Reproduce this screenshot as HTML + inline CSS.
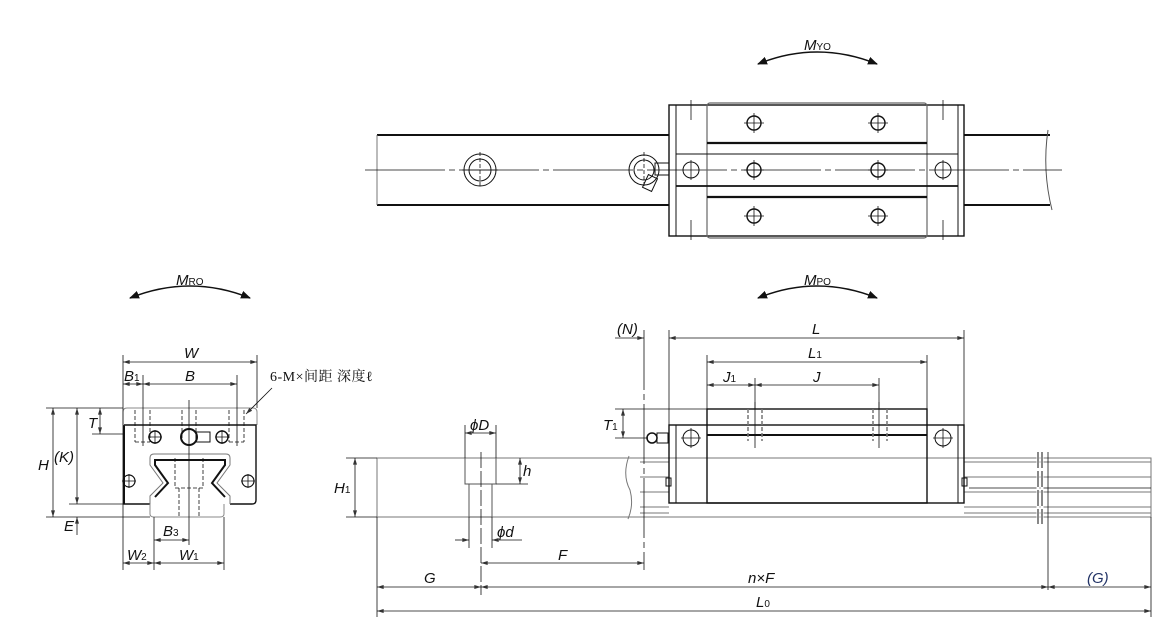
<!DOCTYPE html>
<html><head><meta charset="utf-8"><style>
html,body{margin:0;padding:0;background:#fff;width:1174px;height:631px;overflow:hidden}
svg{display:block}
text{font-family:"Liberation Sans",sans-serif;font-style:italic;font-size:15px;fill:#111}
.s{font-size:10px;font-style:normal}
</style></head><body>
<svg width="1174" height="631" viewBox="0 0 1174 631" xmlns="http://www.w3.org/2000/svg">
<defs>
<marker id="a" viewBox="0 0 10 6" refX="10" refY="3" markerWidth="8" markerHeight="4" orient="auto-start-reverse" markerUnits="userSpaceOnUse"><path d="M0,0L10,3L0,6z" fill="#333"/></marker>
<marker id="b" viewBox="0 0 10 8" refX="9" refY="4" markerWidth="10" markerHeight="8" orient="auto-start-reverse" markerUnits="userSpaceOnUse"><path d="M0,0L10,4L0,8z" fill="#111"/></marker>
</defs>
<g fill="none" stroke="#111" stroke-width="1">

<path d="M758,64 Q817,40 877,64" stroke-width="1.6" marker-start="url(#b)" marker-end="url(#b)"/>
<path d="M130,298 Q190,274 250,298" stroke-width="1.6" marker-start="url(#b)" marker-end="url(#b)"/>
<path d="M758,298 Q817,274 877,298" stroke-width="1.6" marker-start="url(#b)" marker-end="url(#b)"/>

<!-- TOP VIEW -->
<line x1="377" y1="135" x2="669" y2="135" stroke-width="2"/>
<line x1="377" y1="205" x2="669" y2="205" stroke-width="2"/>
<line x1="377" y1="135" x2="377" y2="205" stroke="#777"/>
<line x1="964" y1="135" x2="1050" y2="135" stroke-width="2"/>
<line x1="964" y1="205" x2="1050" y2="205" stroke-width="2"/>
<path d="M1048,130 Q1042,170 1052,210" stroke="#555"/>
<line x1="365" y1="170" x2="1062" y2="170" stroke-width="0.8" stroke-dasharray="80,4,6,4"/>
<circle cx="480" cy="170" r="16"/><circle cx="480" cy="170" r="11"/>
<line x1="480" y1="152" x2="480" y2="188" stroke-dasharray="4,2" stroke-width="0.8"/>
<line x1="462" y1="170" x2="498" y2="170" stroke-width="0.8"/>
<circle cx="644" cy="170" r="15"/><circle cx="644" cy="170" r="10"/>
<line x1="644" y1="152" x2="644" y2="188" stroke-dasharray="4,2" stroke-width="0.8"/>
<rect x="655" y="163" width="14" height="12"/>
<rect x="645" y="176" width="10" height="14" transform="rotate(25 650 183)"/>
<rect x="669" y="105" width="295" height="131" stroke-width="1.4"/>
<line x1="676" y1="105" x2="676" y2="236"/><line x1="958" y1="105" x2="958" y2="236"/>
<rect x="707" y="103" width="220" height="135" rx="3" stroke="#666" stroke-width="1.2"/>
<line x1="707" y1="143" x2="927" y2="143" stroke-width="2.2"/>
<line x1="676" y1="154" x2="958" y2="154"/>
<line x1="676" y1="186" x2="958" y2="186" stroke-width="1.8"/>
<line x1="707" y1="197" x2="927" y2="197" stroke-width="2.2"/>
<line x1="691" y1="100" x2="691" y2="120" stroke-width="0.8"/><line x1="943" y1="100" x2="943" y2="120" stroke-width="0.8"/>
<line x1="691" y1="220" x2="691" y2="240" stroke-width="0.8"/><line x1="943" y1="220" x2="943" y2="240" stroke-width="0.8"/>
<g stroke-width="1.4">
<circle cx="754" cy="123" r="7"/><circle cx="878" cy="123" r="7"/>
<circle cx="754" cy="170" r="7"/><circle cx="878" cy="170" r="7"/>
<circle cx="754" cy="216" r="7"/><circle cx="878" cy="216" r="7"/>
<circle cx="691" cy="170" r="8" stroke-width="1"/><circle cx="943" cy="170" r="8" stroke-width="1"/>
</g>
<path stroke-width="0.8" d="M744,123h20M754,113v20M868,123h20M878,113v20M744,170h20M754,160v20M868,170h20M878,160v20M744,216h20M754,206v20M868,216h20M878,206v20M691,160v20M943,160v20"/>

<!-- FRONT VIEW -->
<path d="M123,425 V412 Q123,408 127,408 H253 Q257,408 257,412 V425" stroke="#888"/>
<path d="M124,425 H256 V500 Q256,504 252,504 H230 M124,425 V504 H150" stroke-width="1.4"/>
<line x1="124" y1="426" x2="124" y2="504" stroke-width="2"/>
<path d="M150,504 V514 Q150,517 154,517 H220 Q224,517 224,514 V504" stroke="#888"/>
<path d="M150,504 V496 L163,483 L150,465 V458 Q150,454 154,454 H226 Q230,454 230,458 V465 L217,483 L230,496 V504" stroke="#777"/>
<path d="M155,497 L168,483 L155,465 V460 H225 V465 L212,483 L225,497" stroke-width="2"/>
<path d="M175,458 V488 H203 V458 M179,488 V517 M199,488 V517" stroke-dasharray="4,2" stroke-width="0.8"/>
<path d="M135,410 V442 M150,410 V442 M182,410 V442 M196,410 V442 M229,410 V442 M244,410 V442 M135,442 H150 M229,442 H244" stroke-dasharray="4,2" stroke-width="0.8"/>
<circle cx="155" cy="437" r="6" stroke-width="1.4"/><circle cx="222" cy="437" r="6" stroke-width="1.4"/>
<circle cx="129" cy="481" r="6" stroke-width="1.2"/><circle cx="248" cy="481" r="6" stroke-width="1.2"/>
<path stroke-width="0.8" d="M148,437h14M155,430v14M215,437h14M222,430v14M122,481h14M129,474v14M241,481h14M248,474v14"/>
<circle cx="189" cy="437" r="8" stroke-width="2"/>
<rect x="196" y="432" width="14" height="10"/>
<line x1="189" y1="400" x2="189" y2="545" stroke-width="0.8"/>
<line x1="143" y1="375" x2="143" y2="446" stroke-width="0.8"/><line x1="237" y1="375" x2="237" y2="446" stroke-width="0.8"/>
<g stroke-width="0.8">
<line x1="123" y1="355" x2="123" y2="570"/><line x1="257" y1="355" x2="257" y2="408"/>
<line x1="123" y1="362" x2="257" y2="362" marker-start="url(#a)" marker-end="url(#a)"/>
<line x1="123" y1="384" x2="143" y2="384" marker-start="url(#a)" marker-end="url(#a)"/>
<line x1="143" y1="384" x2="237" y2="384" marker-start="url(#a)" marker-end="url(#a)"/>
<line x1="46" y1="408" x2="123" y2="408"/><line x1="46" y1="517" x2="150" y2="517"/><line x1="69" y1="504" x2="124" y2="504"/>
<line x1="53" y1="408" x2="53" y2="517" marker-start="url(#a)" marker-end="url(#a)"/>
<line x1="77" y1="408" x2="77" y2="504" marker-start="url(#a)" marker-end="url(#a)"/>
<line x1="77" y1="517" x2="77" y2="535" marker-start="url(#a)"/>
<line x1="92" y1="434" x2="124" y2="434"/>
<line x1="100" y1="408" x2="100" y2="434" marker-start="url(#a)" marker-end="url(#a)"/>
<line x1="154" y1="517" x2="154" y2="570"/><line x1="224" y1="517" x2="224" y2="570"/>
<line x1="154" y1="540" x2="189" y2="540" marker-start="url(#a)" marker-end="url(#a)"/>
<line x1="123" y1="563" x2="154" y2="563" marker-start="url(#a)" marker-end="url(#a)"/>
<line x1="154" y1="563" x2="224" y2="563" marker-start="url(#a)" marker-end="url(#a)"/>
<line x1="272" y1="388" x2="246" y2="414" marker-end="url(#a)"/>
</g>

<!-- SIDE VIEW -->
<g stroke="#777">
<rect x="377" y="458" width="774" height="59"/>
<path d="M964,462 H1151 M964,477 H1151 M964,492 H1151 M964,507 H1151 M964,513 H1151 M640,462 H669 M640,477 H669 M640,492 H669 M640,507 H669 M640,513 H669"/>
<path d="M629,456 Q622,475 630,490 Q634,505 628,519"/>
</g>
<line x1="969" y1="488" x2="1151" y2="488" stroke-width="0.8"/>
<path d="M1038,452 V524 M1042,452 V524" stroke="#fff" stroke-width="3"/>
<path d="M1038,452 V524 M1042,452 V524" stroke-dasharray="16,3"/>
<path d="M1048,452 V590" stroke-width="0.8"/>
<path d="M465,458 V484 H496 V458 M469,484 V517 M492,484 V517 M469,517 H492" stroke="#555"/>
<line x1="481" y1="452" x2="481" y2="595" stroke-width="0.8" stroke-dasharray="16,3"/>
<rect x="669" y="425" width="295" height="78" stroke-width="1.4"/>
<line x1="676" y1="425" x2="676" y2="503"/><line x1="958" y1="425" x2="958" y2="503"/>
<rect x="707" y="409" width="220" height="94" stroke-width="1.4"/>
<line x1="707" y1="435" x2="927" y2="435" stroke-width="2"/>
<circle cx="691" cy="438" r="8"/><circle cx="943" cy="438" r="8"/>
<path d="M681,438h20M691,428v20M933,438h20M943,428v20" stroke-width="0.8"/>
<path d="M748,409 V441 M762,409 V441 M873,409 V441 M887,409 V441" stroke="#777" stroke-dasharray="4,2" stroke-width="1.5"/>
<path d="M755,402 V448 M879,402 V448" stroke-width="0.8"/>
<rect x="666" y="478" width="5" height="8"/><rect x="962" y="478" width="5" height="8"/>
<circle cx="652" cy="438" r="5" stroke-width="1.5"/><rect x="657" y="433" width="11" height="10"/>
<line x1="644" y1="330" x2="644" y2="570" stroke-width="0.8" stroke-dasharray="60,4,6,4"/>
<g stroke-width="0.8">
<line x1="669" y1="330" x2="669" y2="425"/><line x1="964" y1="330" x2="964" y2="425"/>
<line x1="615" y1="338" x2="644" y2="338" marker-end="url(#a)"/>
<line x1="669" y1="338" x2="964" y2="338" marker-start="url(#a)" marker-end="url(#a)"/>
<line x1="707" y1="355" x2="707" y2="409"/><line x1="927" y1="355" x2="927" y2="409"/>
<line x1="707" y1="362" x2="927" y2="362" marker-start="url(#a)" marker-end="url(#a)"/>
<line x1="755" y1="378" x2="755" y2="409"/><line x1="879" y1="378" x2="879" y2="409"/>
<line x1="707" y1="385" x2="755" y2="385" marker-start="url(#a)" marker-end="url(#a)"/>
<line x1="755" y1="385" x2="879" y2="385" marker-start="url(#a)" marker-end="url(#a)"/>
<line x1="615" y1="409" x2="707" y2="409"/><line x1="615" y1="438" x2="648" y2="438"/>
<line x1="623" y1="409" x2="623" y2="438" marker-start="url(#a)" marker-end="url(#a)"/>
<line x1="465" y1="425" x2="465" y2="458"/><line x1="496" y1="425" x2="496" y2="458"/>
<line x1="465" y1="433" x2="496" y2="433" marker-start="url(#a)" marker-end="url(#a)"/>
<line x1="496" y1="484" x2="528" y2="484"/>
<line x1="520" y1="458" x2="520" y2="484" marker-start="url(#a)" marker-end="url(#a)"/>
<line x1="469" y1="517" x2="469" y2="548"/><line x1="492" y1="517" x2="492" y2="548"/>
<line x1="455" y1="540" x2="469" y2="540" marker-end="url(#a)"/>
<line x1="522" y1="540" x2="492" y2="540" marker-end="url(#a)"/>
<line x1="346" y1="458" x2="377" y2="458"/><line x1="346" y1="517" x2="377" y2="517"/>
<line x1="355" y1="458" x2="355" y2="517" marker-start="url(#a)" marker-end="url(#a)"/>
<line x1="377" y1="517" x2="377" y2="617"/><line x1="1151" y1="517" x2="1151" y2="617"/>
<line x1="481" y1="563" x2="644" y2="563" marker-start="url(#a)" marker-end="url(#a)"/>
<line x1="377" y1="587" x2="481" y2="587" marker-start="url(#a)" marker-end="url(#a)"/>
<line x1="481" y1="587" x2="1048" y2="587" marker-start="url(#a)" marker-end="url(#a)"/>
<line x1="1048" y1="587" x2="1151" y2="587" marker-start="url(#a)" marker-end="url(#a)"/>
<line x1="377" y1="611" x2="1151" y2="611" marker-start="url(#a)" marker-end="url(#a)"/>
</g>
</g>

<text x="804" y="50">M<tspan class="s">YO</tspan></text>
<text x="176" y="285">M<tspan class="s">RO</tspan></text>
<text x="804" y="285">M<tspan class="s">PO</tspan></text>
<text x="184" y="358">W</text>
<text x="124" y="381">B<tspan class="s">1</tspan></text>
<text x="185" y="381">B</text>
<text x="270" y="381" style="font-family:'Liberation Serif','Noto Serif CJK SC',serif;font-style:normal;font-size:14px;letter-spacing:0.5px">6-M×间距 深度ℓ</text>
<text x="88" y="428">T</text>
<text x="38" y="470">H</text>
<text x="54" y="462">(K)</text>
<text x="64" y="531">E</text>
<text x="163" y="536">B<tspan class="s">3</tspan></text>
<text x="127" y="560">W<tspan class="s">2</tspan></text>
<text x="179" y="560">W<tspan class="s">1</tspan></text>
<text x="617" y="334">(N)</text>
<text x="812" y="334">L</text>
<text x="808" y="358">L<tspan class="s">1</tspan></text>
<text x="723" y="382">J<tspan class="s">1</tspan></text>
<text x="813" y="382">J</text>
<text x="603" y="430">T<tspan class="s">1</tspan></text>
<text x="470" y="430">ϕD</text>
<text x="523" y="476">h</text>
<text x="334" y="493">H<tspan class="s">1</tspan></text>
<text x="497" y="537">ϕd</text>
<text x="558" y="560">F</text>
<text x="424" y="583">G</text>
<text x="748" y="583">n×F</text>
<text x="1087" y="583" style="fill:#236">(G)</text>
<text x="756" y="607">L<tspan class="s">0</tspan></text>
</svg>
</body></html>
